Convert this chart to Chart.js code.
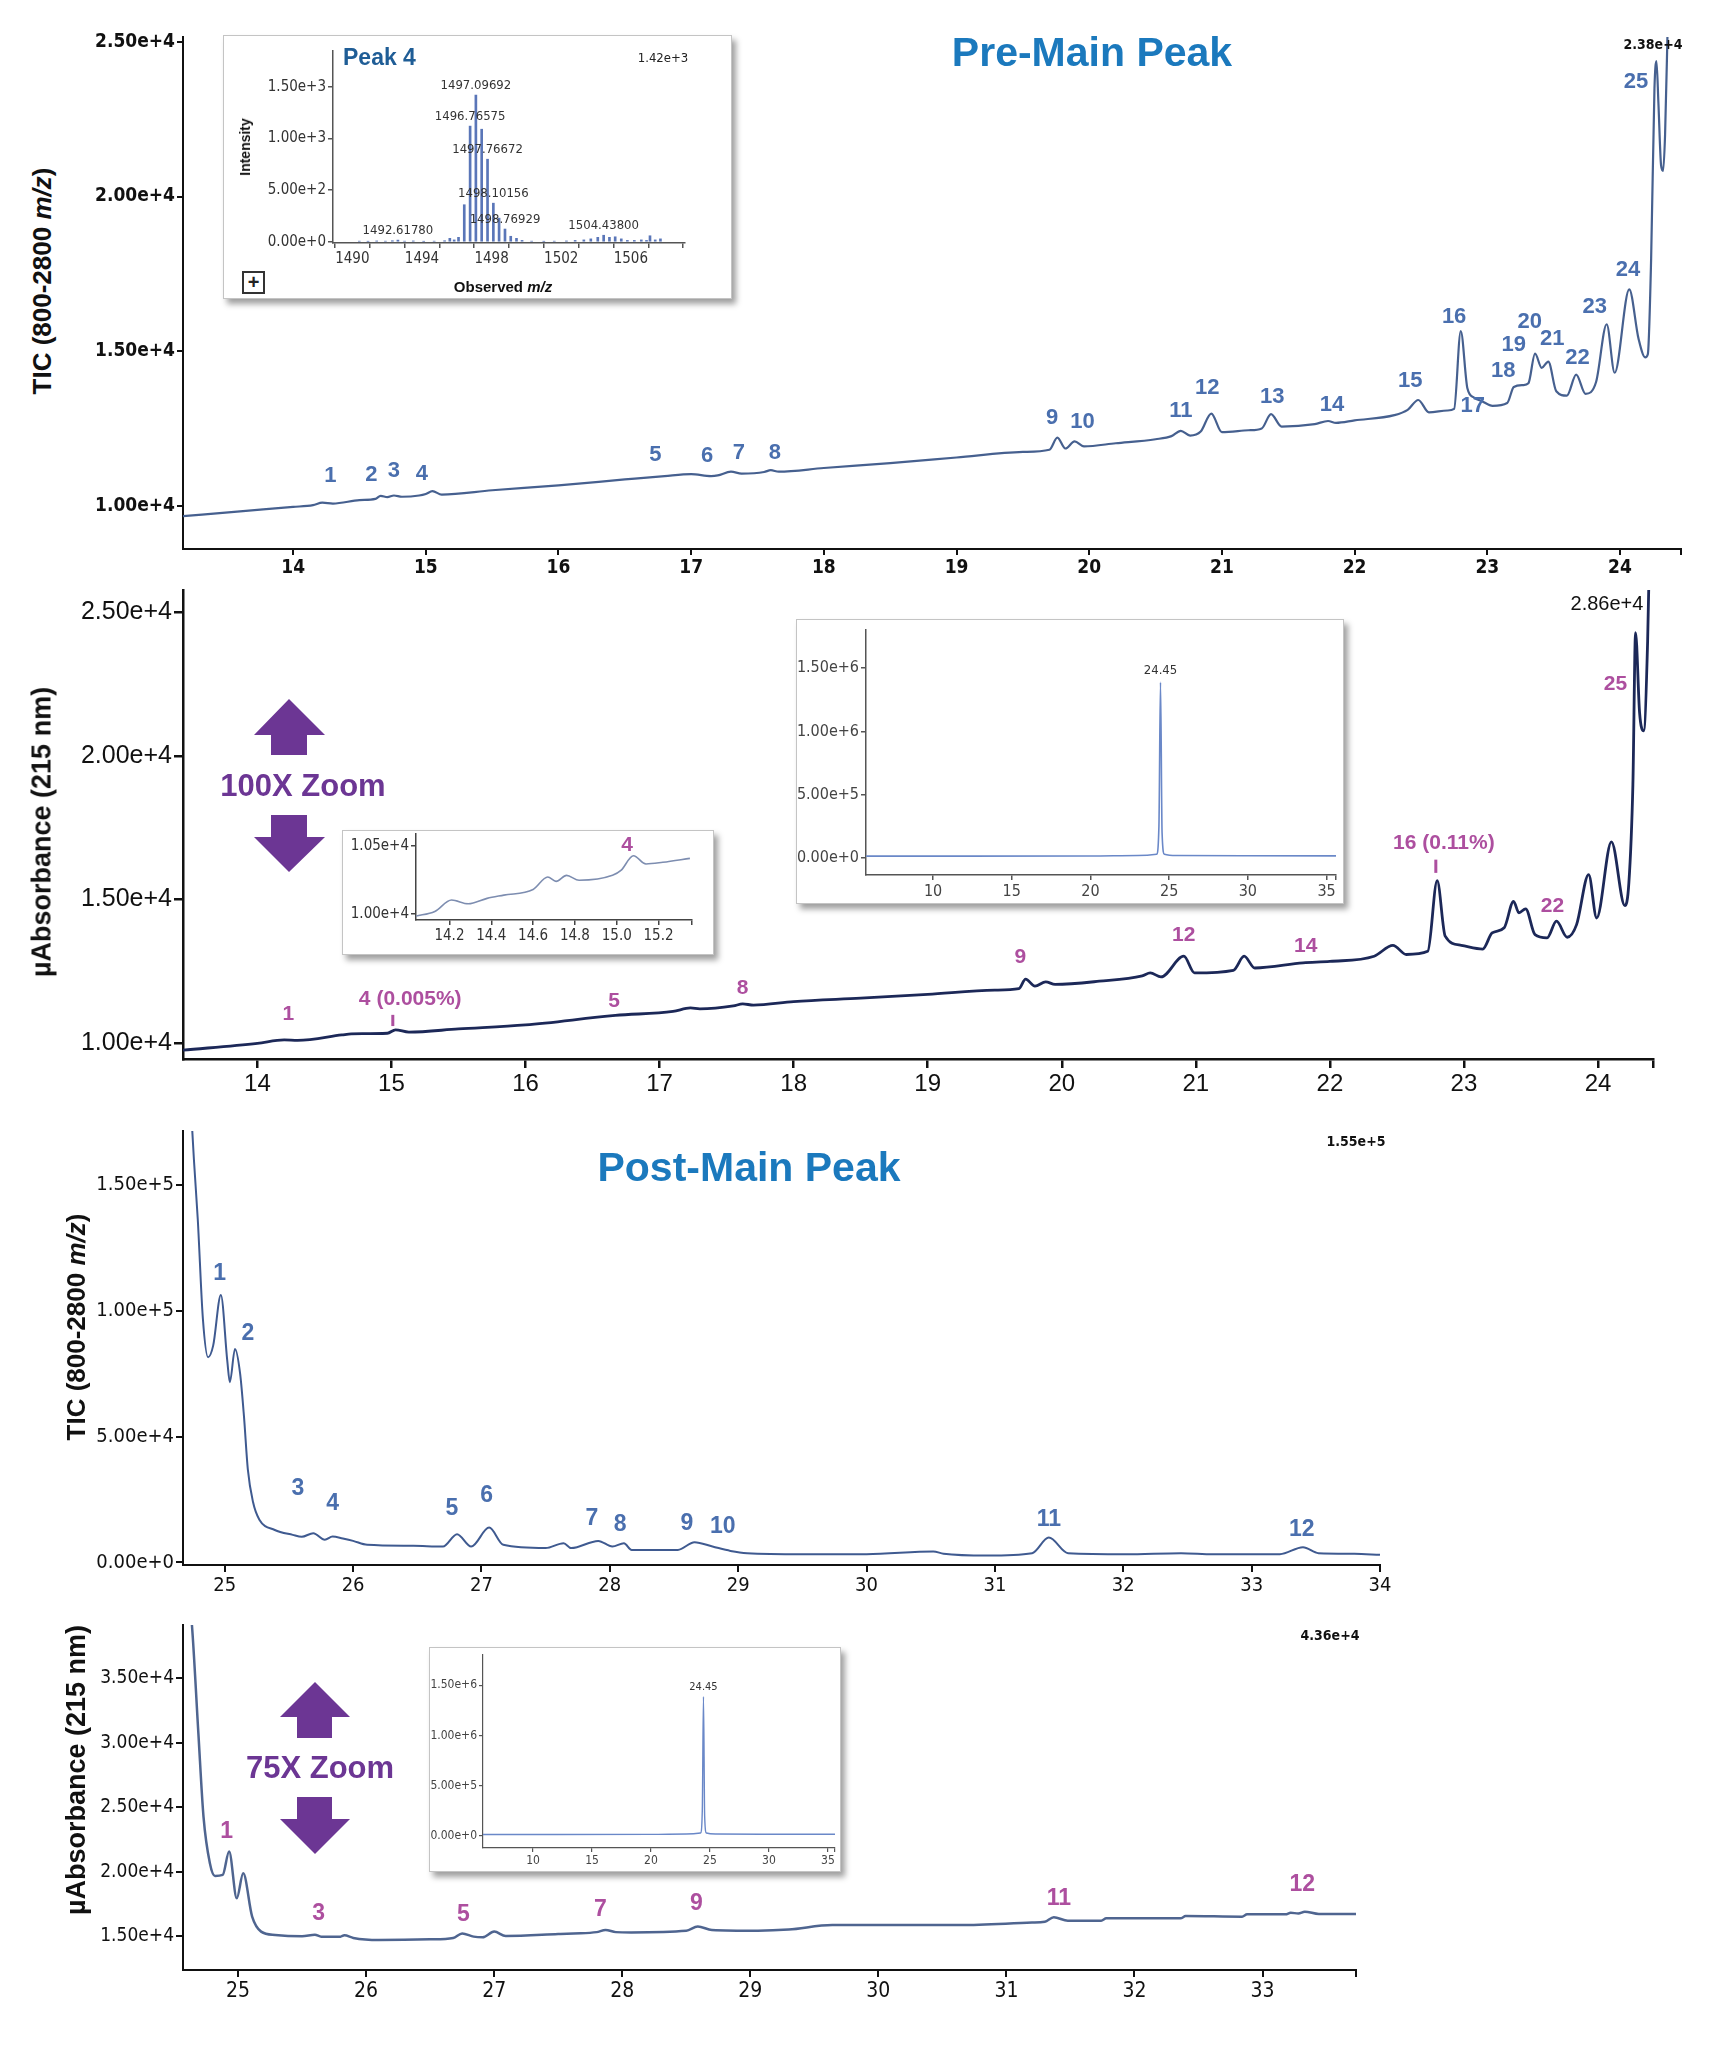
<!DOCTYPE html>
<html><head><meta charset="utf-8">
<script src="https://cdn.jsdelivr.net/npm/chart.js@4.4.1/dist/chart.umd.min.js"></script>
<style>
body{margin:0;background:#fff;}
#page{position:relative;width:1714px;height:2048px;overflow:hidden;background:#fff;font-family:'Liberation Sans',Arial,sans-serif;}
canvas{position:absolute;}
.box{position:absolute;background:#fff;border:1px solid #c4c4c4;box-shadow:4px 5px 6px rgba(0,0,0,0.38);}
.ytitle{position:absolute;font-weight:bold;color:#111;white-space:nowrap;transform:translate(-50%,-50%) rotate(-90deg);}
.ct{position:absolute;white-space:nowrap;transform:translate(-50%,-50%);}
</style></head><body><div id="page">
<svg width="1714" height="2048" style="position:absolute;left:0;top:0">
<g fill="#6c3694">
<polygon points="289,699 254,735 271,735 271,755 307,755 307,735 325,735"/>
<polygon points="271,815 307,815 307,837 325,837 289,872 254,837 271,837"/>
<polygon points="315,1682 280,1717 297,1717 297,1738 332,1738 332,1717 350,1717"/>
<polygon points="297,1797 332,1797 332,1819 350,1819 315,1854 280,1819 297,1819"/>
</g></svg>
</div>
<script>
// ---------------- DATA ----------------
// Panel 1: TIC (800-2800 m/z), pre-main peak
const p1Time = [13.17,13.6,14.0,14.15,14.22,14.3,14.5,14.62,14.66,14.71,14.76,14.82,14.95,15.0,15.05,15.12,15.5,16.0,16.5,16.8,17.0,17.15,17.2,17.3,17.38,17.55,17.6,17.66,18.0,18.5,19.0,19.5,19.7,19.76,19.82,19.89,19.96,20.2,20.5,20.62,20.69,20.76,20.84,20.92,21.0,21.2,21.3,21.37,21.45,21.7,21.8,21.86,22.0,22.3,22.4,22.48,22.56,22.7,22.75,22.8,22.85,22.9,22.96,23.04,23.15,23.2,23.27,23.31,23.36,23.41,23.46,23.52,23.6,23.67,23.74,23.82,23.9,23.96,24.07,24.14,24.19,24.21,24.235,24.26,24.275,24.29,24.31,24.325,24.34,24.36];
const p1Tic  = [9660,9820,9960,10020,10100,10070,10180,10220,10320,10280,10330,10290,10330,10380,10470,10360,10500,10660,10850,10960,11020,10960,10980,11100,11040,11090,11150,11100,11220,11380,11560,11740,11810,12200,11850,12080,11920,12020,12150,12250,12420,12270,12400,12980,12380,12440,12500,12960,12560,12640,12740,12680,12760,12930,13100,13420,13020,13080,13130,15650,13800,13500,13380,13230,13320,13840,13900,13960,14920,14460,14660,13700,13560,14240,13620,14000,15870,14300,17000,15400,14800,14900,18000,23500,24380,23000,21000,20830,22000,25600];
const p1YTicks = [10000,15000,20000,25000];
const p1XTicks = [14,15,16,17,18,19,20,21,22,23,24];
const p1PeakNames = ['1','2','3','4','5','6','7','8','9','10','11','12','13','14','15','16','17','18','19','20','21','22','23','24','25'];
const p1PeakTime  = [14.28,14.59,14.76,14.97,16.73,17.12,17.36,17.63,19.72,19.95,20.69,20.89,21.38,21.83,22.42,22.75,22.89,23.12,23.2,23.32,23.49,23.68,23.81,24.06,24.12];
const p1PeakValue = [10950,11000,11110,11040,11650,11600,11700,11700,12840,12710,13060,13820,13520,13250,14050,16120,13230,14350,15200,15930,15390,14770,16440,17620,23700];

// Panel 2: µAbsorbance (215 nm), pre-main peak
const p2Time = [13.445,14.0,14.2,14.3,14.63,14.7,14.97,15.03,15.13,15.5,16.0,16.67,17.1,17.23,17.3,17.55,17.62,17.7,18.0,18.5,19.0,19.5,19.68,19.73,19.8,19.88,19.95,20.28,20.6,20.66,20.74,20.91,20.99,21.28,21.36,21.44,21.8,22.0,22.33,22.47,22.57,22.73,22.8,22.86,22.98,23.14,23.21,23.3,23.37,23.41,23.46,23.53,23.62,23.69,23.77,23.84,23.93,23.99,24.1,24.2,24.23,24.26,24.28,24.31,24.34,24.37,24.39];
const p2Abs  = [9760,10000,10120,10100,10290,10330,10350,10470,10390,10500,10640,10970,11110,11230,11200,11300,11370,11330,11450,11570,11700,11850,11900,12230,11990,12140,12050,12160,12350,12450,12310,13030,12450,12540,13030,12620,12800,12850,13030,13410,13090,13200,15660,13730,13410,13280,13840,14020,14940,14540,14680,13780,13670,14250,13690,14130,15870,14360,17010,14790,15580,19000,24290,21500,20870,24000,28600];
const p2YTicks = [10000,15000,20000,25000];
const p2XTicks = [14,15,16,17,18,19,20,21,22,23,24];
const p2PeakNames = ['1','4 (0.005%)','5','8','9','12','14','16 (0.11%)','22','25'];
const p2PeakTime  = [14.23,15.14,16.66,17.62,19.69,20.91,21.82,22.85,23.66,24.13];
const p2PeakValue = [11019,11522,11464,11910,13000,13760,13370,16973,14770,22500];
const p2MarkTime = [15.01,22.79];
const p2MarkLow  = [10600,15930];
const p2MarkHigh = [10990,16390];

// Panel 3: TIC (800-2800 m/z), post-main peak
const p3Time = [24.74,24.76,24.79,24.83,24.87,24.91,24.97,25.02,25.04,25.08,25.12,25.15,25.18,25.22,25.27,25.39,25.53,25.6,25.69,25.78,25.84,25.92,26.0,26.11,26.47,26.7,26.81,26.92,27.06,27.17,27.5,27.64,27.7,27.91,28.02,28.11,28.17,28.53,28.66,28.8,28.94,29.07,29.5,30.0,30.52,30.6,30.94,31.29,31.42,31.57,32.02,32.45,32.7,33.22,33.4,33.52,33.8,34.0];
const p3Tic  = [178000,160000,136250,96700,81500,86100,106200,80000,71600,84800,75000,58000,37000,24100,17000,12900,10950,10200,11600,9000,10300,9500,8570,7000,6600,6300,11200,6300,13850,7000,5700,7650,5700,8570,6330,7650,5000,5000,8050,6330,4600,3700,3300,3300,4350,3500,2770,3700,9900,3700,3300,3700,3300,3300,6070,3700,3500,3030];
const p3YTicks = [0,50000,100000,150000];
const p3XTicks = [25,26,27,28,29,30,31,32,33,34];
const p3PeakNames = ['1','2','3','4','5','6','7','8','9','10','11','12'];
const p3PeakTime  = [24.96,25.18,25.57,25.84,26.77,27.04,27.86,28.08,28.6,28.88,31.42,33.39];
const p3PeakValue = [114500,90700,29400,23500,21500,26400,17500,15200,15600,14200,16900,12900];

// Panel 4: µAbsorbance (215 nm), post-main peak
const p4Time = [24.62,24.64,24.69,24.73,24.78,24.82,24.88,24.93,24.99,25.04,25.11,25.18,25.29,25.5,25.6,25.65,25.8,25.83,25.9,26.1,26.5,26.68,26.75,26.84,26.91,27.0,27.09,27.5,27.62,27.8,27.87,27.95,28.07,28.5,28.59,28.7,29.06,29.3,29.64,30.13,30.64,31.2,31.3,31.37,31.48,31.74,31.78,32.36,32.4,32.84,32.88,33.18,33.22,33.28,33.33,33.44,33.73];
const p4Abs  = [41000,39100,30750,24270,20650,19660,19740,21550,17930,19870,16500,15340,15080,14980,15100,14950,14950,15050,14850,14690,14740,14850,15200,14950,14900,15340,15000,15150,15200,15300,15470,15300,15280,15400,15730,15470,15410,15500,15850,15850,15850,16040,16100,16450,16190,16190,16370,16370,16550,16500,16680,16680,16800,16750,16890,16710,16710];
const p4YTicks = [15000,20000,25000,30000,35000];
const p4XTicks = [25,26,27,28,29,30,31,32,33];
const p4PeakNames = ['1','3','5','7','9','11','12'];
const p4PeakTime  = [24.91,25.63,26.76,27.83,28.58,31.41,33.31];
const p4PeakValue = [23100,16760,16630,17070,17540,17930,18960];

// Full UV chromatogram (insets)
const fullTime = [5.75,12,20,23,24.2,24.35,24.45,24.55,24.7,25.5,30,35.6];
const fullAbs  = [15000,15000,16000,20000,30000,250000,1387000,200000,30000,20000,18000,17000];
const fullYTicks = [0,500000,1000000,1500000];
const fullXTicks = [10,15,20,25,30,35];
const fullPeakTime = [24.45];
const fullPeakValue = [1387000];
const fullPeakName = ['24.45'];

// 100X zoom inset (14.0 - 15.4 min)
const zoomTime = [14.04,14.13,14.21,14.29,14.38,14.46,14.6,14.67,14.71,14.76,14.82,14.98,15.02,15.08,15.14,15.22,15.35];
const zoomAbs  = [9985,10019,10103,10075,10115,10139,10180,10272,10240,10284,10248,10284,10320,10428,10368,10380,10409];
const zoomYTicks = [10000,10500];
const zoomXTicks = [14.2,14.4,14.6,14.8,15.0,15.2];

// Peak 4 mass spectrum
const msMz  = [1490.4,1490.9,1491.4,1491.9,1492.3,1492.6178,1493.0,1493.5,1494.1,1494.7,1495.3,1495.6,1495.85,1496.1,1496.43,1496.76575,1497.09692,1497.43,1497.76672,1498.10156,1498.43,1498.76929,1499.1,1499.43,1499.75,1500.3,1501.0,1501.6,1502.3,1502.8,1503.3,1503.7,1504.1,1504.438,1504.77,1505.1,1505.45,1505.8,1506.2,1506.6,1506.9,1507.1,1507.4,1507.7];
const msInt = [8,6,10,8,12,18,8,10,6,8,12,35,20,45,360,1120,1420,1090,800,375,230,125,55,35,15,8,6,8,10,15,20,30,45,65,45,50,30,15,15,20,15,60,20,30];
const msYTicks = [0,500,1000,1500];
const msXTicks = [1490,1492,1494,1496,1498,1500,1502,1504,1506,1508];
const msXLabels = [1490,1494,1498,1502,1506];
const msLabelMz = [1497.09692,1496.76575,1497.76672,1498.10156,1498.76929,1492.6178,1504.438];
const msLabelInt = [1420,1120,800,375,125,18,65];
const msLabelText = ['1497.09692','1496.76575','1497.76672','1498.10156','1498.76929','1492.61780','1504.43800'];

// ---------------- RENDERING ----------------
const NARROW = "'Liberation Sans Narrow','Arial Narrow','DejaVu Sans Condensed',sans-serif";
const SANS = "'Liberation Sans',Arial,Helvetica,sans-serif";
const page = document.getElementById('page');

function el(tag, cls, css, html){
  const d=document.createElement(tag); if(cls) d.className=cls;
  Object.assign(d.style, css||{}); if(html!==undefined) d.innerHTML=html; page.appendChild(d); return d;
}
function addCanvas(a, yW, xH){
  const padL=4,padT=16,padR=36,padB=4;
  const c=document.createElement('canvas');
  const w=(a.R-a.L)+yW+padL+padR, h=(a.B-a.T)+xH+padT+padB;
  c.width=w;c.height=h;
  c.style.left=(a.L-yW-padL)+'px';c.style.top=(a.T-padT)+'px';
  c.style.width=w+'px';c.style.height=h+'px';
  page.appendChild(c);
  return {c, padding:{left:padL,top:padT,right:padR,bottom:padB}};
}
function axis(o){
  return {
    type:'linear', min:o.min, max:o.max, position:o.pos, bounds:'data',
    afterBuildTicks: s => {
      const t=o.ticks.map(v=>({value:v}));
      if(o.endTick) t.push({value:o.max});
      s.ticks=t;
    },
    afterFit: s => {
      if(o.pos==='left') s.width=o.size; else s.height=o.size;
      s.paddingLeft=0;s.paddingRight=0;s.paddingTop=0;s.paddingBottom=0;
    },
    ticks:{autoSkip:false,maxRotation:0,minRotation:0,padding:o.pad,color:o.tcolor,font:o.font,callback:o.fmt},
    grid:{display:true,drawOnChartArea:false,drawTicks:true,tickLength:o.tickLen,color:o.lcolor,lineWidth:o.lw},
    border:{display:true,color:o.lcolor,width:o.lw}
  };
}
function annot(names, xs, ys, font, color, opt){
  opt=opt||{};
  return {
    id:'annot',
    afterDatasetsDraw(chart){
      const ctx=chart.ctx, x=chart.scales.x, y=chart.scales.y;
      ctx.save();
      ctx.font=font; ctx.fillStyle=color; ctx.textAlign='center';
      ctx.textBaseline=opt.baseline||'middle';
      names.forEach((n,i)=>ctx.fillText(n, x.getPixelForValue(xs[i]), y.getPixelForValue(ys[i])+(opt.dy||0)));
      if(opt.marks){
        ctx.strokeStyle=color; ctx.lineWidth=opt.markWidth||3;
        opt.marks.t.forEach((t,i)=>{
          const px=x.getPixelForValue(t);
          ctx.beginPath(); ctx.moveTo(px,y.getPixelForValue(opt.marks.lo[i])); ctx.lineTo(px,y.getPixelForValue(opt.marks.hi[i])); ctx.stroke();
        });
      }
      ctx.restore();
    }
  };
}
const expFmt = v => Number(v).toExponential(2);
function chart(spec){
  const {c,padding}=addCanvas(spec.area, spec.yW, spec.xH);
  const data=spec.t.map((t,i)=>({x:t,y:spec.v[i]}));
  const ds = spec.type==='bar'
    ? {data, backgroundColor:spec.color, borderWidth:0, barThickness:spec.lw}
    : {data, borderColor:spec.color, borderWidth:spec.lw, pointRadius:0, cubicInterpolationMode:'monotone', fill:false};
  return new Chart(c,{
    type:spec.type||'line',
    data:{datasets:[ds]},
    options:{
      responsive:false, animation:false, devicePixelRatio:1,
      layout:{padding},
      plugins:{legend:{display:false},tooltip:{enabled:false}},
      scales:{
        x:axis({pos:'bottom',min:spec.xr[0],max:spec.xr[1],ticks:spec.xt,endTick:spec.endTick,size:spec.xH,pad:spec.xPad||2,
               tcolor:spec.tcolor,font:spec.xFont,fmt:spec.xFmt,tickLen:spec.tickLen,lcolor:spec.lcolor,lw:spec.alw}),
        y:axis({pos:'left',min:spec.yr[0],max:spec.yr[1],ticks:spec.yt,size:spec.yW,pad:spec.yPad||2,
               tcolor:spec.tcolor,font:spec.yFont,fmt:spec.yFmt||expFmt,tickLen:spec.tickLen,lcolor:spec.lcolor,lw:spec.alw})
      }
    },
    plugins:spec.plugins||[]
  });
}
const intFmt = list => v => list.includes(v) ? String(v) : '';

// ---- Panel 1
chart({area:{L:183,T:37,R:1681,B:549}, yW:104, xH:32, t:p1Time, v:p1Tic, xr:[13.17,24.46], yr:[8600,25160],
  xt:p1XTicks, yt:p1YTicks, endTick:true, xFmt:intFmt(p1XTicks),
  xFont:{family:NARROW,size:19,weight:'bold'}, yFont:{family:NARROW,size:19,weight:'bold'},
  tcolor:'#111', lcolor:'#111', alw:2, tickLen:6, color:'#46608f', lw:2.2,
  plugins:[annot(p1PeakNames,p1PeakTime,p1PeakValue,"bold 22px "+SANS,'#4a6fae')]});
// ---- Panel 2
chart({area:{L:183,T:590,R:1653,B:1059}, yW:130, xH:40, t:p2Time, v:p2Abs, xr:[13.445,24.41], yr:[9454,25772],
  xt:p2XTicks, yt:p2YTicks, endTick:true, xFmt:intFmt(p2XTicks),
  xFont:{family:SANS,size:24}, yFont:{family:SANS,size:25},
  tcolor:'#111', lcolor:'#111', alw:2.5, tickLen:9, color:'#1c2858', lw:2.8,
  plugins:[annot(p2PeakNames,p2PeakTime,p2PeakValue,"bold 21px "+SANS,'#ad4f9f',
     {marks:{t:p2MarkTime,lo:p2MarkLow,hi:p2MarkHigh},markWidth:3})]});
// ---- Panel 3
chart({area:{L:183,T:1131,R:1380,B:1565}, yW:104, xH:36, t:p3Time, v:p3Tic, xr:[24.675,34.0], yr:[-1000,171300],
  xt:p3XTicks, yt:p3YTicks, endTick:false, xFmt:intFmt(p3XTicks),
  xFont:{family:NARROW,size:20}, yFont:{family:NARROW,size:20},
  tcolor:'#111', lcolor:'#111', alw:2, tickLen:7, color:'#3f5a90', lw:2,
  plugins:[annot(p3PeakNames,p3PeakTime,p3PeakValue,"bold 23px "+SANS,'#4a6fae')]});
// ---- Panel 4
chart({area:{L:183,T:1625,R:1356,B:1970}, yW:100, xH:38, t:p4Time, v:p4Abs, xr:[24.57,33.73], yr:[12360,39140],
  xt:p4XTicks, yt:p4YTicks, endTick:true, xFmt:intFmt(p4XTicks),
  xFont:{family:NARROW,size:21}, yFont:{family:NARROW,size:19},
  tcolor:'#111', lcolor:'#111', alw:2, tickLen:7, color:'#4f6590', lw:2.5,
  plugins:[annot(p4PeakNames,p4PeakTime,p4PeakValue,"bold 23px "+SANS,'#ad4f9f')]});

// ---- Inset boxes
el('div','box',{left:'223px',top:'35px',width:'507px',height:'262px'});
el('div','box',{left:'342px',top:'830px',width:'370px',height:'123px'});
el('div','box',{left:'796px',top:'619px',width:'546px',height:'283px'});
el('div','box',{left:'429px',top:'1647px',width:'410px',height:'223px'});

// ---- Inset: Peak 4 MS
chart({type:'bar', area:{L:333,T:51,R:685,B:243}, yW:80, xH:26, t:msMz, v:msInt, xr:[1489.9,1508.1], yr:[-10,1846],
  xt:msXTicks, yt:msYTicks, endTick:false, xFmt:intFmt(msXLabels),
  xFont:{family:NARROW,size:15}, yFont:{family:NARROW,size:15},
  tcolor:'#333', lcolor:'#555', alw:1.5, tickLen:5, color:'#5a76b8', lw:2,
  plugins:[annot(msLabelText,msLabelMz,msLabelInt,"13px "+NARROW,'#333',{baseline:'bottom',dy:-3})]});
// ---- Inset: 100X zoom region
chart({area:{L:416,T:834,R:692,B:920}, yW:72, xH:24, t:zoomTime, v:zoomAbs, xr:[14.04,15.36], yr:[9956,10588],
  xt:zoomXTicks, yt:zoomYTicks, endTick:true, xFmt:v=>zoomXTicks.includes(v)?v.toFixed(1):'',
  xFont:{family:NARROW,size:15}, yFont:{family:NARROW,size:15},
  tcolor:'#333', lcolor:'#444', alw:1.5, tickLen:5, color:'#7d8db0', lw:1.6,
  plugins:[annot(['4'],[15.05],[10505],"bold 21px "+SANS,'#ad4f9f')]});
// ---- Inset: full chromatogram (panel 2)
chart({area:{L:866,T:630,R:1336,B:875}, yW:72, xH:30, t:fullTime, v:fullAbs, xr:[5.74,35.6], yr:[-134000,1800000],
  xt:fullXTicks, yt:fullYTicks, endTick:true, xFmt:intFmt(fullXTicks),
  xFont:{family:NARROW,size:16}, yFont:{family:NARROW,size:16},
  tcolor:'#444', lcolor:'#555', alw:1.5, tickLen:5, color:'#6a88c8', lw:1.6,
  plugins:[annot(fullPeakName,fullPeakTime,fullPeakValue,"13px "+NARROW,'#333',{baseline:'bottom',dy:-5})]});
// ---- Inset: full chromatogram (panel 4)
chart({area:{L:483,T:1655,R:835,B:1848}, yW:54, xH:24, t:fullTime, v:fullAbs, xr:[5.76,35.6], yr:[-119000,1800000],
  xt:fullXTicks, yt:fullYTicks, endTick:true, xFmt:intFmt(fullXTicks),
  xFont:{family:NARROW,size:12}, yFont:{family:NARROW,size:12},
  tcolor:'#444', lcolor:'#555', alw:1.2, tickLen:4, color:'#6a88c8', lw:1.4,
  plugins:[annot(fullPeakName,fullPeakTime,fullPeakValue,"11px "+NARROW,'#333',{baseline:'bottom',dy:-4})]});

// ---- Text annotations
el('div','ytitle',{left:'42px',top:'281px',fontSize:'26px'},'TIC (800-2800 <i>m/z</i>)');
el('div','ytitle',{left:'42px',top:'832px',fontSize:'27px'},'µAbsorbance (215 nm)');
el('div','ytitle',{left:'76px',top:'1327px',fontSize:'26px'},'TIC (800-2800 <i>m/z</i>)');
el('div','ytitle',{left:'76px',top:'1770px',fontSize:'27px'},'µAbsorbance (215 nm)');
el('div','ct',{left:'1092px',top:'52px',fontSize:'41px',fontWeight:'bold',color:'#1b79bd'},'Pre-Main Peak');
el('div','ct',{left:'749px',top:'1167px',fontSize:'41px',fontWeight:'bold',color:'#1b79bd'},'Post-Main Peak');
el('div','ct',{left:'1653px',top:'44px',fontSize:'14px',fontWeight:'bold',fontFamily:NARROW,color:'#111'},'2.38e+4');
el('div','ct',{left:'1607px',top:'603px',fontSize:'20px',color:'#111'},'2.86e+4');
el('div','ct',{left:'1356px',top:'1141px',fontSize:'14px',fontWeight:'bold',fontFamily:NARROW,color:'#111'},'1.55e+5');
el('div','ct',{left:'1330px',top:'1635px',fontSize:'14px',fontWeight:'bold',fontFamily:NARROW,color:'#111'},'4.36e+4');
el('div','ct',{left:'303px',top:'786px',fontSize:'31px',fontWeight:'bold',color:'#6c3694'},'100X Zoom');
el('div','ct',{left:'320px',top:'1768px',fontSize:'31px',fontWeight:'bold',color:'#6c3694'},'75X Zoom');
// MS inset texts
el('div','',{position:'absolute',left:'343px',top:'44px',fontSize:'23px',fontWeight:'bold',color:'#1f5d96',whiteSpace:'nowrap'},'Peak 4');
el('div','ct',{left:'663px',top:'57px',fontSize:'13px',fontFamily:NARROW,color:'#222'},'1.42e+3');
el('div','ytitle',{left:'245px',top:'147px',fontSize:'14px'},'Intensity');
el('div','ct',{left:'503px',top:'286px',fontSize:'15px',fontWeight:'bold',color:'#111'},'Observed <i>m/z</i>');
el('div','',{position:'absolute',left:'242px',top:'271px',width:'19px',height:'19px',border:'2px solid #333',
  fontSize:'20px',fontWeight:'bold',lineHeight:'19px',textAlign:'center',color:'#222',background:'#fff'},'+');
</script></body></html>
